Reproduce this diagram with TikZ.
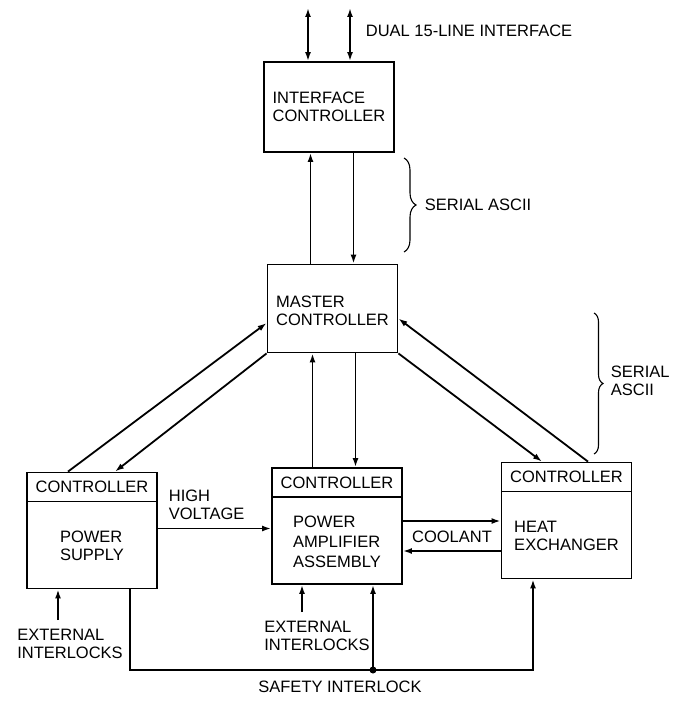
\documentclass[tikz,border=0pt]{standalone}
\usepackage{fontspec}
\setmainfont{Liberation Sans}
\usetikzlibrary{arrows.meta,calc,decorations.pathreplacing}

\begin{document}
\begin{tikzpicture}[x=1pt, y=-1pt, line width=1.8pt,
		>={Latex[length=9pt,width=6pt]},
		every node/.style={font=\fontsize{16.5}{18}\selectfont, inner sep=0pt},
		unit/.style={draw, minimum width=130pt, minimum height=116pt},
		cbox/.style={draw, minimum width=130pt, minimum height=88pt},
		hdr/.style={draw, anchor=north, minimum width=130pt, minimum height=29pt},
		brc/.style={line width=1.1pt, decorate, decoration={brace, amplitude=#1}}]
		%%%%% START %%%%%
		\useasboundingbox (0,0) rectangle (673,701);
		
		\node[cbox, minimum height=90pt] (ic) at (329,107) {};
		\node[align=left] (ictxt) at (ic.center) {INTERFACE\\CONTROLLER};
		\node[cbox] (mc) at (332.5,308.5) {};
		\node[align=left] (mctxt) at ([yshift=-2pt]mc.center) {MASTER\\CONTROLLER};
		
		\node[unit] (ps) at (92,530.5) {};
		\node[hdr] (psc) at (ps.north) {CONTROLLER};
		\node[align=left] (pstxt) at ($(psc.south)!0.5!(ps.south)$) {POWER\\SUPPLY};
		
		\node[unit] (pa) at (337,526) {};
		\node[hdr] (pac) at (pa.north) {CONTROLLER};
		\node[align=left, font=\fontsize{16.5}{20}\selectfont] (patxt) at ($(pac.south)!0.5!(pa.south)$) {POWER\\AMPLIFIER\\ASSEMBLY};
		
		\node[unit] (hx) at (566.5,520.5) {};
		\node[hdr] (hxc) at (hx.north) {CONTROLLER};
		\node[align=left] (hxtxt) at ($(hxc.south)!0.5!(hx.south)$) {HEAT\\EXCHANGER};
		
		% dual interface
		\coordinate (t1) at (308,8);
		\coordinate (t2) at (350,8);
		\draw[<->] (t1) -- (t1 |- ic.north);
		\draw[<->] (t2) -- (t2 |- ic.north);
		\node[anchor=west] (dual) at (365,31) {DUAL 15-LINE INTERFACE};
		
		% serial links
		\draw[->] ([xshift=-22pt]mc.north) -- ([xshift=-22pt]mc.north |- ic.south);
		\draw[->] ([xshift=21pt]mc.north |- ic.south) -- ([xshift=21pt]mc.north);
		\draw[brc=12pt] (404,158) -- (404,252);
		\node[anchor=west] (sa1) at (424,205) {SERIAL ASCII};
		
		\draw[->] ([xshift=-20pt]mc.south |- pa.north) -- ([xshift=-20pt]mc.south);
		\draw[->] ([xshift=23pt]mc.south) -- ([xshift=23pt]mc.south |- pa.north);
		
		\draw[->] ([xshift=-24pt]ps.north) -- ([yshift=-14.5pt]mc.west);
		\draw[->] (mc.south west) -- ([xshift=23pt]ps.north);
		\draw[->] (mc.south east) -- ([xshift=-24.5pt]hx.north);
		\draw[->] ([xshift=21.5pt]hx.north) -- ([yshift=-10pt]mc.east);
		\draw[brc=9pt] (594,313) -- (594,454);
		\node[anchor=west, align=left] (sa2) at (610,381) {SERIAL\\ASCII};
		
		% power and coolant
		\draw[->] ([yshift=2pt]ps.east) -- ([yshift=2pt]ps.east -| pa.west);
		\node[anchor=west, align=left] (hv) at (168,505) {HIGH\\VOLTAGE};
		\draw[->] ([yshift=5pt]pa.east) -- ([yshift=5pt]pa.east -| hx.west);
		\draw[->] ([yshift=-25pt]pa.east -| hx.west) -- ([yshift=-25pt]pa.east);
		\node (cool) at (452,537) {COOLANT};
		
		% interlocks
		\coordinate (eps) at (58,620);
		\draw[->] (eps) -- (eps |- ps.south);
		\node[align=left] (extps) at (70,644) {EXTERNAL\\INTERLOCKS};
		\coordinate (epa) at (302,612);
		\draw[->] (epa) -- (epa |- pa.south);
		\node[align=left] (extpa) at (317,636) {EXTERNAL\\INTERLOCKS};
		
		\coordinate (sj) at (373,670);
		\draw[->] ([xshift=38pt]ps.south) |- (sj) -| ([xshift=-33.5pt]hx.south);
		\draw[->] (sj) -- (sj |- pa.south);
		\fill (sj) circle (3.5pt);
		\node (safe) at (340,687) {SAFETY INTERLOCK};
		%%%%% END %%%%%
	\end{tikzpicture}
\end{document}
